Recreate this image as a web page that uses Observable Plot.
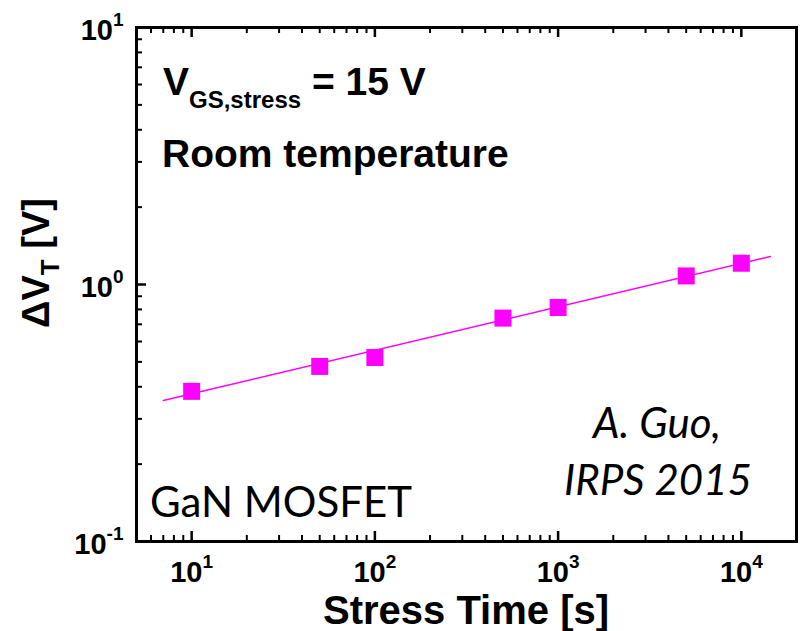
<!DOCTYPE html>
<html>
<head>
<meta charset="utf-8">
<script src="https://cdn.jsdelivr.net/npm/d3@7"></script>
<script src="https://cdn.jsdelivr.net/npm/@observablehq/plot@0.6"></script>
<style>
  html, body { margin: 0; padding: 0; background: #ffffff; }
  #chart svg { display: block; }
</style>
</head>
<body>
<div id="chart"></div>
<script>
// Threshold-voltage shift vs. gate stress time (log-log)
const stressTime = [10, 50, 100, 500, 1000, 5000, 10000];          // s
const deltaVT    = [0.384, 0.48, 0.52, 0.74, 0.814, 1.08, 1.21];   // V

// Power-law fit line end points
const fitTime    = [7, 14400];
const fitDeltaVT = [0.354, 1.285];

// Axis ticks
const xMajorTicks = [10, 100, 1000, 10000];
const xMinorTicks = [5, 6, 7, 8, 9,
  20, 30, 40, 50, 60, 70, 80, 90,
  200, 300, 400, 500, 600, 700, 800, 900,
  2000, 3000, 4000, 5000, 6000, 7000, 8000, 9000, 20000];
const yMajorTicks = [0.1, 1, 10];
const yMinorTicks = [0.2, 0.3, 0.4, 0.5, 0.6, 0.7, 0.8, 0.9,
  2, 3, 4, 5, 6, 7, 8, 9];

const points = stressTime.map((t, i) => ({t, v: deltaVT[i]}));
const fit = fitTime.map((t, i) => ({t, v: fitDeltaVT[i]}));

const W = 800, H = 631;
const mL = 136, mR = 4, mT = 27, mB = 90;
const innerW = W - mL - mR, innerH = H - mT - mB;
const majorLen = 10, minorLen = 6;
const magenta = "#ff00ff";
const boldFont = "'Liberation Sans', Arial, sans-serif";
const plainFont = "Lato, 'Open Sans', sans-serif";

const expFormat = d => `10^${Math.round(Math.log10(d))}`;

const svg = Plot.plot({
  width: W,
  height: H,
  marginLeft: mL,
  marginRight: mR,
  marginTop: mT,
  marginBottom: mB,
  style: {background: "#ffffff", color: "#000000"},
  x: {type: "log", domain: [5, 20000]},
  y: {type: "log", domain: [0.1, 10]},
  marks: [
    // inward ticks: bottom and top
    Plot.tickX(xMajorTicks, {x: d => d, insetTop: innerH - majorLen, stroke: "#000", strokeWidth: 2.5}),
    Plot.tickX(xMinorTicks, {x: d => d, insetTop: innerH - minorLen, stroke: "#000", strokeWidth: 2}),
    Plot.tickX(xMajorTicks, {x: d => d, insetBottom: innerH - majorLen, stroke: "#000", strokeWidth: 2.5}),
    Plot.tickX(xMinorTicks, {x: d => d, insetBottom: innerH - minorLen, stroke: "#000", strokeWidth: 2}),
    // inward ticks: left
    Plot.tickY(yMajorTicks, {y: d => d, insetRight: innerW - majorLen, stroke: "#000", strokeWidth: 2.5}),
    Plot.tickY(yMinorTicks, {y: d => d, insetRight: innerW - minorLen, stroke: "#000", strokeWidth: 2}),
    Plot.axisX({
      ticks: xMajorTicks, tickSize: 0, tickPadding: 20, tickFormat: expFormat, label: null,
      fontSize: 29, fontWeight: "bold", fontFamily: boldFont, fill: "#000"
    }),
    Plot.axisY({
      ticks: yMajorTicks, tickSize: 0, tickPadding: 13, tickFormat: expFormat, label: null,
      fontSize: 29, fontWeight: "bold", fontFamily: boldFont, fill: "#000", dy: 3
    }),
    Plot.line(fit, {x: "t", y: "v", stroke: magenta, strokeWidth: 1.5}),
    Plot.dot(points, {x: "t", y: "v", symbol: "square", r: 9.6, fill: magenta, stroke: "none"}),
    Plot.frame({stroke: "#000", strokeWidth: 3})
  ]
});

// Turn "10^n" tick labels into 10 with a superscript exponent
d3.select(svg).selectAll('g[aria-label$="tick label"] text').each(function () {
  const label = d3.select(this).text();
  const [base, exp] = label.split("^");
  const t = d3.select(this);
  t.text(base)
    .attr("font-family", boldFont)
    .attr("font-weight", "bold")
    .attr("font-size", 29)
    .attr("fill", "#000");
  t.append("tspan").attr("dy", -14).attr("font-size", 19).text(exp);
});

const root = d3.select(svg);

// Axis titles
root.append("text")
  .attr("x", mL + innerW / 2).attr("y", 624)
  .attr("text-anchor", "middle")
  .attr("font-family", boldFont).attr("font-weight", "bold").attr("font-size", 40)
  .attr("fill", "#000")
  .text("Stress Time [s]");

const yTitle = root.append("text")
  .attr("transform", "translate(49,263) rotate(-90)")
  .attr("text-anchor", "middle")
  .attr("font-family", boldFont).attr("font-weight", "bold").attr("font-size", 38)
  .attr("fill", "#000");
yTitle.append("tspan").text("\u0394V");
yTitle.append("tspan").attr("font-size", 26).attr("dy", 10).text("T");
yTitle.append("tspan").attr("dy", -10).text(" [V]");

// Stress condition annotation
const cond = root.append("text")
  .attr("x", 163).attr("y", 95)
  .attr("text-anchor", "start")
  .attr("font-family", boldFont).attr("font-weight", "bold").attr("font-size", 39)
  .attr("fill", "#000");
cond.append("tspan").text("V");
cond.append("tspan").attr("font-size", 24).attr("dy", 13).text("GS,stress");
cond.append("tspan").attr("dy", -13).text(" = 15 V");

root.append("text")
  .attr("x", 162).attr("y", 167)
  .attr("text-anchor", "start")
  .attr("font-family", boldFont).attr("font-weight", "bold").attr("font-size", 39)
  .attr("fill", "#000")
  .text("Room temperature");

// Device and source labels
root.append("text")
  .attr("x", 150).attr("y", 517)
  .attr("text-anchor", "start")
  .attr("font-family", plainFont).attr("font-size", 42)
  .attr("fill", "#000")
  .text("GaN MOSFET");

const src = root.append("text")
  .attr("text-anchor", "middle")
  .attr("font-family", plainFont).attr("font-style", "italic").attr("font-size", 42)
  .attr("fill", "#000");
src.append("tspan").attr("x", 657).attr("y", 438).text("A. Guo,");
src.append("tspan").attr("x", 658).attr("y", 495).text("IRPS 2015");

document.getElementById("chart").appendChild(svg);
</script>
</body>
</html>
